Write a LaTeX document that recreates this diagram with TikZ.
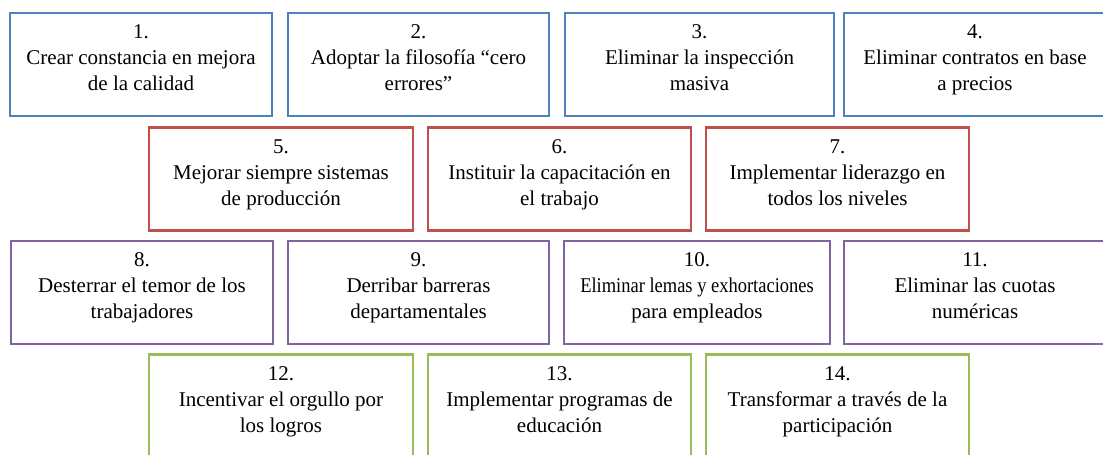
\documentclass[tikz,border=0pt]{standalone}
\usepackage{fontspec}
\usepackage{graphicx}
\setmainfont{Liberation Serif}
\definecolor{stepblue}{RGB}{79,129,189}
\definecolor{stepred}{RGB}{192,80,77}
\definecolor{steppurple}{RGB}{128,100,162}
\definecolor{stepgreen}{RGB}{155,187,89}
\newcommand{\boxstrut}{\rule[-13pt]{0pt}{13pt}}
\begin{document}
\begin{tikzpicture}[x=1pt,y=-1pt,
  item box/.style={draw,rectangle,line width=2.5pt,inner sep=0pt,minimum height=103pt,align=center,font=\fontsize{21}{26}\selectfont},
  blue box/.style={item box,draw=stepblue},
  red box/.style={item box,draw=stepred},
  purple box/.style={item box,draw=steppurple},
  green box/.style={item box,draw=stepgreen},
]
\useasboundingbox (0,0) rectangle (1103,455);

 % fila 1
 \node (box_1) at (141,64.5) [blue box,minimum width=262pt] {1.\\Crear constancia en mejora\\de la calidad\boxstrut};
 \node (box_2) at (418.5,64.5) [blue box,minimum width=261pt] {2.\\Adoptar la filosofía “cero\\errores”\boxstrut};
 \node (box_3) at (699.5,64.5) [blue box,minimum width=269pt] {3.\\Eliminar la inspección\\masiva\boxstrut};
 \node (box_4) at (975,64.5) [blue box,minimum width=262pt] {4.\\Eliminar contratos en base\\a precios\boxstrut};

 % fila 2
 \node (box_5) at (281,179) [red box,minimum width=264pt] {5.\\Mejorar siempre sistemas\\de producción\boxstrut};
 \node (box_6) at (559.5,179) [red box,minimum width=263pt] {6.\\Instituir la capacitación en\\el trabajo\boxstrut};
 \node (box_7) at (837.5,179) [red box,minimum width=263pt] {7.\\Implementar liderazgo en\\todos los niveles\boxstrut};

 % fila 3
 \node (box_8) at (142,292.5) [purple box,minimum width=262pt] {8.\\Desterrar el temor de los\\trabajadores\boxstrut};
 \node (box_9) at (418.5,292.5) [purple box,minimum width=261pt] {9.\\Derribar barreras\\departamentales\boxstrut};
 \node (box_10) at (697,292.5) [purple box,minimum width=266pt] {10.\\\scalebox{0.88}[1]{Eliminar lemas y exhortaciones}\\para empleados\boxstrut};
 \node (box_11) at (975,292.5) [purple box,minimum width=262pt] {11.\\Eliminar las cuotas\\numéricas\boxstrut};

 % fila 4
 \node (box_12) at (281,406) [green box,minimum width=264pt] {12.\\Incentivar el orgullo por\\los logros\boxstrut};
 \node (box_13) at (559.5,406) [green box,minimum width=263pt] {13.\\Implementar programas de\\educación\boxstrut};
 \node (box_14) at (837.5,406) [green box,minimum width=263pt] {14.\\Transformar a través de la\\participación\boxstrut};

\end{tikzpicture}
\end{document}
